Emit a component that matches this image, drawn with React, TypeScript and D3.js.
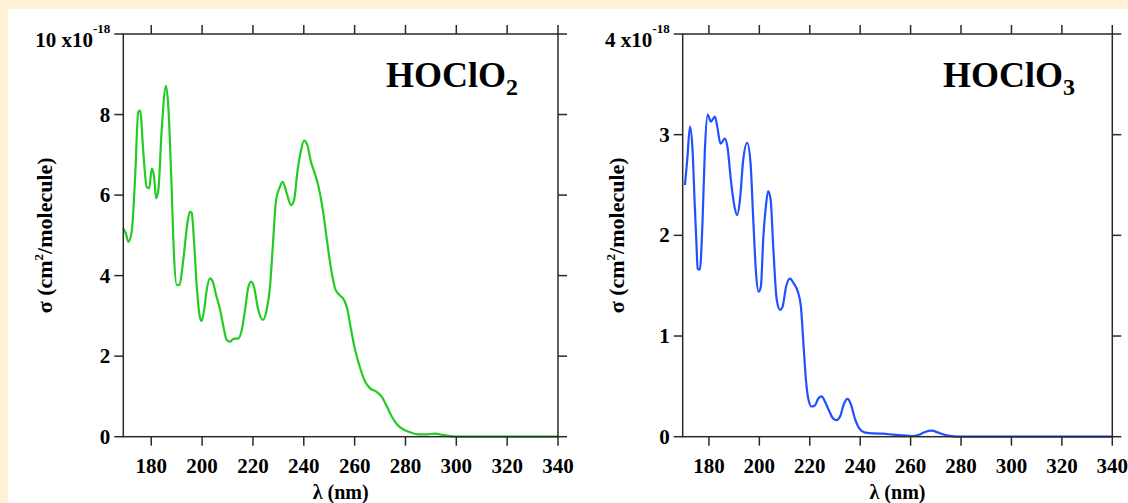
import React from 'react'
import * as d3 from 'd3'

// wavelength (nm) and cross section (1e-18 cm2/molecule)
const hoclo2Wl = [169, 170, 171, 172.3, 173.6, 174.9, 175.6, 176.9, 178.2, 179.2, 180.2, 181.1, 181.9, 182.8, 184.1, 185.8, 186.7, 188, 188.9, 190, 191, 192.6, 194.2, 195.2, 195.9, 196.8, 197.9, 198.9, 199.8, 200.8, 201.8, 203.1, 204.2, 205.5, 207.1, 208.4, 209.7, 211, 212.3, 214.3, 215.6, 216.9, 218.2, 219.4, 220.4, 222.1, 223.9, 225.4, 226.7, 227.8, 229.1, 230.4, 231.7, 233.3, 235, 236.2, 237.5, 238.8, 240.1, 241.4, 242.8, 244.1, 245.8, 247.5, 249.1, 250.6, 252.3, 254, 255.9, 257.2, 258.5, 260.2, 262.2, 264.1, 266.1, 268.5, 270.7, 272.7, 274.6, 276.6, 279.2, 281.9, 285.1, 288.4, 291.7, 295, 300.2, 320, 340]
const hoclo2Sigma = [5.17, 5.05, 4.84, 5.09, 6.37, 8.07, 8.1, 7.04, 6.2, 6.17, 6.66, 6.46, 5.92, 6.13, 7.62, 8.71, 8.2, 6.2, 4.55, 3.77, 3.77, 4.39, 5.3, 5.59, 5.56, 4.88, 3.72, 3.06, 2.87, 3.15, 3.64, 3.93, 3.85, 3.52, 3.15, 2.73, 2.4, 2.36, 2.43, 2.44, 2.65, 3.15, 3.72, 3.85, 3.72, 3.15, 2.9, 3.15, 3.72, 4.72, 5.88, 6.17, 6.33, 6.04, 5.75, 5.88, 6.58, 7.08, 7.35, 7.24, 6.83, 6.58, 6.21, 5.63, 4.88, 4.22, 3.68, 3.52, 3.39, 3.15, 2.69, 2.15, 1.7, 1.37, 1.2, 1.12, 0.99, 0.75, 0.5, 0.31, 0.18, 0.11, 0.06, 0.06, 0.075, 0.04, 0, 0, 0]

const hoclo3Wl = [170.5, 171.4, 172.5, 173.5, 174.4, 175.1, 175.5, 176.4, 177.4, 178.4, 179.5, 180.8, 182.4, 183.3, 184.6, 186.3, 187.4, 188.7, 190.1, 191.2, 192.3, 193.6, 195.2, 196.5, 197.6, 198.7, 199.7, 200.6, 201.6, 202.6, 203.5, 204.5, 205.5, 206.9, 208.2, 209.2, 210.6, 212.1, 213.7, 215.4, 216.5, 217.4, 218.5, 219.4, 220.7, 222, 223.4, 224.7, 226, 227.8, 229.3, 230.7, 232, 233.6, 235, 236.2, 237.9, 239.7, 241.9, 245.2, 249.2, 253.1, 257.1, 260.4, 263.1, 265.7, 268.4, 271, 274.3, 277, 279.6, 310, 340]
const hoclo3Sigma = [2.5, 2.75, 3.08, 2.85, 2.29, 1.89, 1.67, 1.66, 2.09, 2.85, 3.2, 3.13, 3.18, 3.08, 2.91, 2.96, 2.87, 2.55, 2.29, 2.2, 2.35, 2.75, 2.92, 2.72, 2.15, 1.62, 1.44, 1.49, 1.99, 2.29, 2.44, 2.35, 1.89, 1.36, 1.26, 1.29, 1.49, 1.57, 1.52, 1.43, 1.29, 0.96, 0.56, 0.38, 0.3, 0.31, 0.38, 0.4, 0.35, 0.25, 0.18, 0.165, 0.2, 0.33, 0.375, 0.33, 0.18, 0.08, 0.04, 0.033, 0.03, 0.02, 0.013, 0.007, 0.017, 0.046, 0.06, 0.04, 0.013, 0.003, 0, 0, 0]

const xTicks = [180, 200, 220, 240, 260, 280, 300, 320, 340]
const hoclo2YTicks = [0, 2, 4, 6, 8, 10]
const hoclo3YTicks = [0, 1, 2, 3, 4]

const serif = '"Liberation Serif", "Times New Roman", serif'
const axisColor = '#2a2a2a'
const tickLen = 9

type PanelProps = {
  left: number
  right: number
  xMin: number
  yMax: number
  yTicks: number[]
  wl: number[]
  sigma: number[]
  color: string
  title: string
  sub: string
  labelX: number
  titleRight: number
}

function Panel({ left, right, xMin, yMax, yTicks, wl, sigma, color, title, sub, labelX, titleRight }: PanelProps) {
  const top = 34
  const bottom = 436.7
  const x = d3.scaleLinear().domain([xMin, 340]).range([left, right])
  const y = d3.scaleLinear().domain([0, yMax]).range([bottom, top])
  const pts = wl.map((w, i) => [w, sigma[i]] as [number, number])
  const line = d3.line<[number, number]>()
    .x(d => x(d[0]))
    .y(d => y(d[1]))
    .curve(d3.curveMonotoneX)

  return (
    <g>
      <path d={line(pts) || ''} fill="none" stroke={color} strokeWidth={2.2} />
      <rect x={left} y={top} width={right - left} height={bottom - top}
        fill="none" stroke={axisColor} strokeWidth={1.5} />

      {xTicks.map(t => (
        <g key={'x' + t}>
          <line x1={x(t)} x2={x(t)} y1={bottom} y2={bottom + tickLen} stroke={axisColor} strokeWidth={1.5} />
          <line x1={x(t)} x2={x(t)} y1={top} y2={top - tickLen} stroke={axisColor} strokeWidth={1.5} />
          <text x={x(t)} y={473} textAnchor="middle" fontFamily={serif} fontWeight="bold" fontSize={21}>{t}</text>
        </g>
      ))}

      {yTicks.map(t => (
        <g key={'y' + t}>
          <line x1={left - tickLen} x2={left} y1={y(t)} y2={y(t)} stroke={axisColor} strokeWidth={1.5} />
          <line x1={right} x2={right + tickLen} y1={y(t)} y2={y(t)} stroke={axisColor} strokeWidth={1.5} />
          {t === yMax ? (
            <text x={left - 13} y={47} textAnchor="end" fontFamily={serif} fontWeight="bold" fontSize={21}>
              {t} x10<tspan fontSize={13} dy={-14}>-18</tspan>
            </text>
          ) : (
            <text x={left - 13} y={y(t) + 7} textAnchor="end" fontFamily={serif} fontWeight="bold" fontSize={21}>{t}</text>
          )}
        </g>
      ))}

      <text x={(left + right) / 2} y={499} textAnchor="middle" fontFamily={serif} fontWeight="bold" fontSize={20}>λ (nm)</text>

      <text transform={`translate(${labelX},${(top + bottom) / 2}) rotate(-90)`} textAnchor="middle"
        fontFamily={serif} fontWeight="bold" fontSize={22}>
        σ (cm<tspan fontSize={13} dy={-9}>2</tspan><tspan dy={9}>/molecule)</tspan>
      </text>

      <text x={titleRight} y={87} textAnchor="end" fontFamily={serif} fontWeight="bold" fontSize={36}>
        {title}<tspan fontSize={24} dy={8}>{sub}</tspan>
      </text>
    </g>
  )
}

export default function App() {
  return (
    <svg width={1128} height={503} style={{ position: 'absolute', left: 0, top: 0 }}>
      <rect x={0} y={0} width={1128} height={503} fill="#fef1d5" />
      <rect x={8} y={9} width={1120} height={494} fill="#ffffff" />
      <Panel left={123.3} right={558} xMin={169} yMax={10} yTicks={hoclo2YTicks}
        wl={hoclo2Wl} sigma={hoclo2Sigma} color="#22cc22" title="HOClO" sub="2" labelX={52} titleRight={518} />
      <Panel left={682.7} right={1112.3} xMin={169.6} yMax={4} yTicks={hoclo3YTicks}
        wl={hoclo3Wl} sigma={hoclo3Sigma} color="#2050ff" title="HOClO" sub="3" labelX={624} titleRight={1075} />
    </svg>
  )
}
